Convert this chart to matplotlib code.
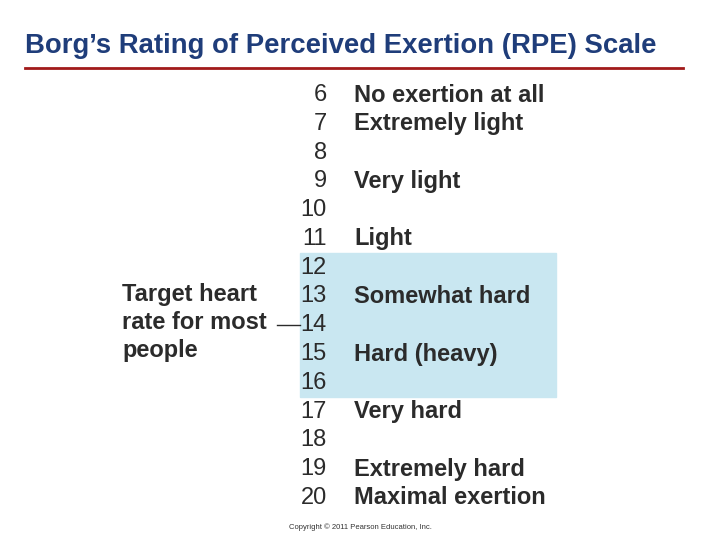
import matplotlib
matplotlib.use("Agg")
import matplotlib.pyplot as plt
from matplotlib.patches import Rectangle

ratings = list(range(6, 21))
descriptions = ["No exertion at all", "Extremely light", "", "Very light", "", "Light", "",
                "Somewhat hard", "", "Hard (heavy)", "", "Very hard", "", "Extremely hard",
                "Maximal exertion"]
target_range = (12, 16)
target_lines = ["Target heart", "rate for most", "people"]
title = "Borg’s Rating of Perceived Exertion (RPE) Scale"

fig = plt.figure(figsize=(7.2, 5.4), dpi=100)
ax = fig.add_axes([0, 0, 1, 1])
ax.set_xlim(0, 720); ax.set_ylim(540, 0); ax.axis("off")
font = "Liberation Sans"

ax.text(25, 46, title, fontsize=19.8, fontweight="bold", color="#1f3d7a",
        fontfamily=font, va="center", ha="left")
ax.plot([25, 683], [68, 68], color="#a11a1a", lw=2)

y0, dy = 95, (498 - 95) / 14
def ry(r): return y0 + (r - 6) * dy
ax.add_patch(Rectangle((300, ry(target_range[0]) - dy / 2), 256,
                       (target_range[1] - target_range[0] + 1) * dy,
                       color="#c9e7f1", zorder=0))
tc = "#2b2b2b"
fs = 17
for r, d in zip(ratings, descriptions):
    ax.text(327, ry(r), str(r), fontsize=fs, color=tc,
            fontfamily=font, ha="right", va="center")
    if d:
        ax.text(354, ry(r), d, fontsize=fs, fontweight="bold", color=tc,
                fontfamily=font, ha="left", va="center")
for i, t in enumerate(target_lines):
    ax.text(122, 294 + i * 28.5, t, fontsize=fs, fontweight="bold", color=tc,
            fontfamily=font, ha="left", va="center")
ax.plot([277, 300], [ry(14), ry(14)], color=tc, lw=1)
ax.text(360, 527, "Copyright © 2011 Pearson Education, Inc.", fontsize=5.5,
        color="#333333", fontfamily=font, ha="center", va="center")
fig.savefig("out.png", dpi=100)
